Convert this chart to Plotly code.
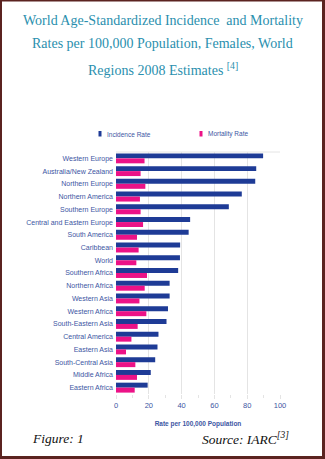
import plotly.graph_objects as go

regions = ["Western Europe", "Australia/New Zealand", "Northern Europe", "Northern America",
           "Southern Europe", "Central and Eastern Europe", "South America", "Caribbean", "World",
           "Southern Africa", "Northern Africa", "Western Asia", "Western Africa", "South-Eastern Asia",
           "Central America", "Eastern Asia", "South-Central Asia", "Middle Africa", "Eastern Africa"]
incidence = [89.7, 85.5, 84.9, 76.7, 68.8, 45.2, 44.3, 39.1, 39.0, 37.9, 32.7, 32.7, 31.7, 30.8,
             25.9, 25.3, 23.9, 21.2, 19.3]
mortality = [17.4, 15.0, 17.9, 14.6, 15.0, 16.5, 12.8, 13.8, 12.4, 18.9, 17.5, 14.3, 18.5, 13.2,
             9.4, 6.1, 11.8, 12.8, 11.4]
xticks = [0, 20, 40, 60, 80, 100]

W, H = 325, 459
L, R, T, B = 116, 45, 152, 65
PW, PH = W - L - R, H - T - B

def xp(px):
    return (px - L) / PW

def yp(py):
    return (H - B - py) / PH

BLUE = "#1e3b96"
PINK = "#ec1287"
LABEL = "#3d56a3"
TEAL = "#2a8fae"
BORDER = "#5b2320"
SANS = "Liberation Sans Narrow, Arial Narrow, Liberation Sans, Arial"
SERIF = "Liberation Serif, Times New Roman, serif"

fig = go.Figure()
fig.add_trace(go.Bar(y=regions, x=incidence, orientation="h", name="Incidence Rate",
                     marker=dict(color=BLUE, line=dict(width=0))))
fig.add_trace(go.Bar(y=regions, x=mortality, orientation="h", name="Mortality Rate",
                     marker=dict(color=PINK, line=dict(width=0))))

fig.update_layout(
    width=W, height=H, margin=dict(l=L, r=R, t=T, b=B, pad=0, autoexpand=False),
    paper_bgcolor="white", plot_bgcolor="white", showlegend=False,
    barmode="group", bargap=0.22, bargroupgap=0,
    xaxis=dict(range=[0, 100], tickvals=xticks, showgrid=True, gridcolor="#e4e4e4", gridwidth=1,
               zeroline=False, showline=False, ticks="outside", ticklen=4, tickcolor="#e4e4e4",
               minor=dict(dtick=10, ticks="outside", ticklen=3, tickcolor="#e4e4e4", showgrid=False),
               automargin=False,
               tickfont=dict(family=SANS, size=7.5, color=LABEL),
               title=dict(text="<b>Rate per 100,000 Population</b>", standoff=12,
                          font=dict(family=SANS, size=6.5, color=LABEL))),
    yaxis=dict(categoryorder="array", categoryarray=regions, autorange="reversed",
               showgrid=False, zeroline=False, showline=False, ticks="", ticklabelstandoff=2,
               automargin=False,
               tickfont=dict(family=SANS, size=7, color=LABEL)),
)

# top frame line of plot area
fig.add_shape(type="line", xref="paper", yref="paper", x0=0, x1=1, y0=1, y1=1,
              line=dict(color="#e4e4e4", width=1))

# outer border
for (x0, y0, x1, y1) in [(0, 0, 2, H), (0, 0, W, 1.5), (322, 0, W, H), (0, 456, W, H)]:
    fig.add_shape(type="rect", xref="paper", yref="paper", x0=xp(x0), x1=xp(x1), y0=yp(y0), y1=yp(y1),
                  fillcolor=BORDER, line=dict(width=0), layer="above")

# title lines
title_lines = ["World Age-Standardized Incidence  and Mortality",
               "Rates per 100,000 Population, Females, World",
               "Regions 2008 Estimates <sup>[4]</sup>"]
for txt, cy in zip(title_lines, [20, 44, 69]):
    fig.add_annotation(text=txt, xref="paper", yref="paper", x=xp(162.5), y=yp(cy),
                       xanchor="center", yanchor="middle", showarrow=False,
                       font=dict(family=SERIF, size=14, color=TEAL))

# legend
for name, color, mx in [("Incidence Rate", BLUE, 98.5), ("Mortality Rate", PINK, 199.5)]:
    fig.add_shape(type="rect", xref="paper", yref="paper", x0=xp(mx), x1=xp(mx + 3), y0=yp(131),
                  y1=yp(136.5), fillcolor=color, line=dict(width=0))
    fig.add_annotation(text=name, xref="paper", yref="paper", x=xp(mx + 6), y=yp(134),
                       xanchor="left", yanchor="middle", showarrow=False,
                       font=dict(family=SANS, size=6.5, color=LABEL))

# footer
fig.add_annotation(text="<i>Figure: 1</i>", xref="paper", yref="paper", x=xp(30), y=yp(438),
                   xanchor="left", yanchor="middle", showarrow=False,
                   font=dict(family=SERIF, size=13.5, color="#111111"))
fig.add_annotation(text="<i>Source: IARC<sup>[3]</sup></i>", xref="paper", yref="paper", x=xp(200), y=yp(438),
                   xanchor="left", yanchor="middle", showarrow=False,
                   font=dict(family=SERIF, size=13.5, color="#111111"))

fig.write_html("out.html")
